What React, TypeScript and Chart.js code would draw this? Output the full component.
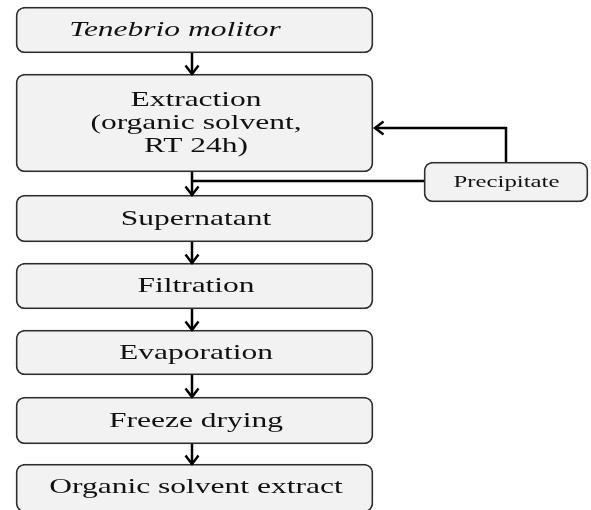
import { useEffect, useRef } from "react";
import { Chart, registerables } from "chart.js";

Chart.register(...registerables);

// ---- Data (flow units on a 591 x 510 plane) ----
const stepLabels = [
  "Tenebrio molitor",
  "Extraction\n(organic solvent,\nRT 24h)",
  "Supernatant",
  "Filtration",
  "Evaporation",
  "Freeze drying",
  "Organic solvent extract",
];
const stepTop = [7, 74, 195, 263, 330, 397, 464];
const stepBottom = [53, 172, 242, 309, 375, 444, 512];

const sideLabels = ["Precipitate"];
const sideTop = [162];
const sideBottom = [202];

const mergeLineY = [181]; // precipitate joins the main flow here
const returnLineY = [128]; // precipitate goes back to extraction here

// ---- Layout / style constants ----
const W = 591;
const H = 510;
const MAIN_X = 194.5;
const MAIN_W = 357;
const FLOW_X = 192;
const SIDE_X = 506;
const SIDE_W = 164;
const FONT = '"Liberation Serif", "Times New Roman", serif';
const ITALIC_STEPS = new Set([0]);
const LABEL_SHIFT: Record<number, number> = { 0: -21 };

function buildConnectors() {
  const list: { pts: { x: number; y: number }[]; arrow: boolean }[] = [];
  for (let i = 0; i < stepLabels.length - 1; i++) {
    list.push({
      pts: [
        { x: FLOW_X, y: stepBottom[i] },
        { x: FLOW_X, y: stepTop[i + 1] },
      ],
      arrow: true,
    });
  }
  list.push({
    pts: [
      { x: SIDE_X - SIDE_W / 2, y: mergeLineY[0] },
      { x: FLOW_X, y: mergeLineY[0] },
    ],
    arrow: false,
  });
  list.push({
    pts: [
      { x: SIDE_X, y: sideTop[0] },
      { x: SIDE_X, y: returnLineY[0] },
      { x: MAIN_X + MAIN_W / 2 + 2, y: returnLineY[0] },
    ],
    arrow: true,
  });
  return list;
}

function chevron(ctx: CanvasRenderingContext2D, tx: number, ty: number, dx: number, dy: number) {
  const len = 8.5;
  const half = 6.5;
  const bx = tx - dx * len;
  const by = ty - dy * len;
  const px = -dy;
  const py = dx;
  ctx.beginPath();
  ctx.moveTo(bx + px * half, by + py * half);
  ctx.lineTo(tx, ty);
  ctx.lineTo(bx - px * half, by - py * half);
  ctx.stroke();
}

const flowPlugin = {
  id: "flowDecor",
  afterDatasetsDraw(chart: any) {
    const ctx: CanvasRenderingContext2D = chart.ctx;
    chart.data.datasets.forEach((ds: any, di: number) => {
      const meta = chart.getDatasetMeta(di);
      if (ds.arrowHead) {
        const pts = meta.data;
        const a = pts[pts.length - 2];
        const b = pts[pts.length - 1];
        const dx = b.x - a.x;
        const dy = b.y - a.y;
        const l = Math.hypot(dx, dy) || 1;
        ctx.save();
        ctx.strokeStyle = ds.borderColor;
        ctx.lineWidth = ds.borderWidth;
        ctx.lineJoin = "miter";
        ctx.lineCap = "butt";
        chevron(ctx, b.x, b.y, dx / l, dy / l);
        ctx.restore();
      }
      if (ds.boxLabels) {
        meta.data.forEach((el: any, i: number) => {
          const { x, y, base } = el.getProps(["x", "y", "base"], true);
          const cy = (Math.min(y, base) + Math.min(Math.max(y, base), chart.chartArea.bottom)) / 2;
          const lines = String(ds.boxLabels[i]).split("\n");
          const size = ds.fontSize;
          const lh = ds.lineHeight;
          const shift = ds.textShift + ((ds.labelShift && ds.labelShift[i]) || 0);
          ctx.save();
          ctx.fillStyle = "#111111";
          ctx.textAlign = "center";
          ctx.textBaseline = "alphabetic";
          ctx.font = `${ds.italic && ds.italic.has(i) ? "italic " : ""}${size}px ${FONT}`;
          lines.forEach((ln, k) => {
            const baseY = cy + size * 0.3 + (k - (lines.length - 1) / 2) * lh;
            ctx.save();
            ctx.translate(x + shift, baseY);
            ctx.scale(ds.stretch, 1);
            ctx.fillText(ln, 0, 0);
            ctx.restore();
          });
          ctx.restore();
        });
      }
    });
  },
};

export default function App() {
  const ref = useRef<HTMLCanvasElement | null>(null);
  useEffect(() => {
    if (!ref.current) return;
    const connectors = buildConnectors();
    const chart = new Chart(ref.current, {
      type: "bar",
      data: {
        datasets: [
          {
            type: "bar",
            label: "Steps",
            data: stepTop.map((t, i) => ({ x: MAIN_X, y: [t, stepBottom[i]] })) as any,
            backgroundColor: "#f2f2f2",
            borderColor: "#2e2e2e",
            borderWidth: 1.8,
            borderRadius: 9,
            borderSkipped: false,
            barThickness: MAIN_W,
            grouped: false,
            boxLabels: stepLabels,
            fontSize: 21,
            lineHeight: 23,
            stretch: 1.5,
            textShift: 1.5,
            labelShift: LABEL_SHIFT,
            italic: ITALIC_STEPS,
          } as any,
          {
            type: "bar",
            label: "Side",
            data: sideTop.map((t, i) => ({ x: SIDE_X, y: [t, sideBottom[i]] })) as any,
            backgroundColor: "#f2f2f2",
            borderColor: "#2e2e2e",
            borderWidth: 1.8,
            borderRadius: 9,
            borderSkipped: false,
            barThickness: SIDE_W,
            grouped: false,
            boxLabels: sideLabels,
            fontSize: 16,
            lineHeight: 18,
            stretch: 1.55,
            textShift: 0.5,
          } as any,
          ...connectors.map(
            (c, i) =>
              ({
                type: "line",
                label: `c${i}`,
                data: c.pts,
                borderColor: "#000000",
                borderWidth: 2.5,
                pointRadius: 0,
                fill: false,
                tension: 0,
                borderCapStyle: "butt",
                borderJoinStyle: "miter",
                arrowHead: c.arrow,
              }) as any
          ),
        ],
      },
      options: {
        animation: false,
        responsive: false,
        events: [],
        layout: { padding: 0 },
        plugins: { legend: { display: false }, tooltip: { enabled: false } },
        scales: {
          x: { type: "linear", min: 0, max: W, offset: false, display: false },
          y: { type: "linear", min: 0, max: H, reverse: true, display: false },
        },
      },
      plugins: [flowPlugin],
    });
    return () => chart.destroy();
  }, []);
  return (
    <div style={{ position: "absolute", left: 0, top: 0, width: W, height: H, background: "#fff" }}>
      <canvas ref={ref} width={W} height={H} style={{ display: "block" }} />
    </div>
  );
}
